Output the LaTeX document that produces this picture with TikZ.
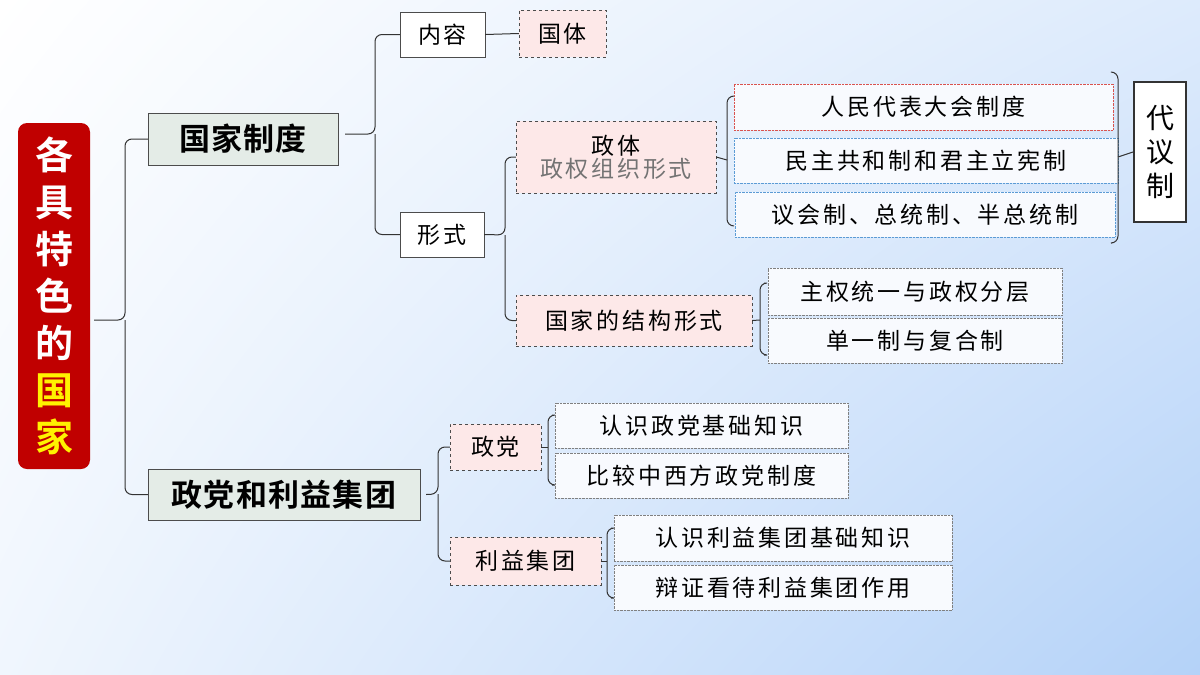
\documentclass[tikz,border=0pt]{standalone}
\usepackage{fontspec}
\setmainfont{Noto Sans CJK SC}
\newfontfamily\cjk[LetterSpace=12]{Noto Sans CJK SC}
\newfontfamily\cjkb[LetterSpace=4]{Noto Sans CJK SC Bold}
\usetikzlibrary{positioning,shadings}
\definecolor{titred}{HTML}{C00000}
\definecolor{mainfill}{HTML}{E4ECE7}
\definecolor{pinkfill}{HTML}{FDE8E8}
\definecolor{bgblue}{HTML}{B4D2F8}
\definecolor{dotblue}{HTML}{5B9BD5}
\definecolor{dotred}{HTML}{D9534F}
\newcommand\bx[7]{\node[#6,minimum width=#4-#2,minimum height=#5-#3] (#1) at ({(#2+#4)/2},{(#3+#5)/2}) {#7};}
\tikzset{
  main/.style={draw=black!70,fill=mainfill,inner sep=0,font=\cjkb\fontsize{31}{33}\selectfont},
  plain/.style={draw=black!70,fill=white,inner sep=0,font=\cjk\fontsize{23}{25}\selectfont},
  pink/.style={draw=black!70,dashed,fill=pinkfill,inner sep=0,font=\cjk\fontsize{23}{25}\selectfont},
  leaf/.style={draw=black!50,densely dotted,fill=white!60!bgblue!25,inner sep=0,font=\cjk\fontsize{23}{25}\selectfont},
  brace/.style={draw=black!80,line width=1pt,rounded corners=7}
}
\begin{document}
\begin{tikzpicture}[x=1pt,y=-1pt]
\shade[upper left=white,upper right=bgblue!45,lower left=bgblue!20,lower right=bgblue] (0,0) rectangle (1200,675);
\useasboundingbox (0,0) rectangle (1200,675);
% title
\node[fill=titred,rounded corners=9,minimum width=72,minimum height=346,inner sep=0,
  align=center,font=\fontspec{Noto Sans CJK SC Bold}\fontsize{38}{47}\selectfont] (tit) at (54,296)
  {\color{white}各\\ \color{white}具\\ \color{white}特\\ \color{white}色\\ \color{white}的\\ \color{yellow}国\\ \color{yellow}家};
\bx{gjzd}{148}{113}{338}{165}{main}{国家制度}
\bx{zdly}{148}{469}{420}{520}{main}{政党和利益集团}
\bx{nr}{400}{12}{485}{57}{plain}{内容}
\bx{gt}{519}{10}{606}{57}{pink}{国体}
\bx{xs}{400}{212}{484}{257}{plain}{形式}
\bx{zt}{516}{121}{716}{193}{pink,align=center}{政体\\[-2pt]\color{black!55}政权组织形式}
\bx{jg}{516}{295}{752}{346}{pink}{国家的结构形式}
\bx{rd}{734}{84}{1113}{130}{leaf,draw=dotred}{人民代表大会制度}
\bx{mz}{734}{138}{1118}{183}{leaf,draw=dotblue}{民主共和制和君主立宪制}
\bx{yh}{735}{192}{1115}{237}{leaf,draw=dotblue}{议会制、总统制、半总统制}
\bx{dy}{1134}{82}{1186}{222}{plain,line width=2.2pt,draw=black!80,align=center,font=\fontsize{28}{34}\selectfont}{代\\议\\制}
\bx{zq}{768}{268}{1062}{315}{leaf}{主权统一与政权分层}
\bx{dy2}{768}{318}{1062}{363}{leaf}{单一制与复合制}
\bx{zd}{450}{424}{541}{470}{pink}{政党}
\bx{ly}{450}{537}{601}{585}{pink}{利益集团}
\bx{rs1}{555}{403}{848}{448}{leaf}{认识政党基础知识}
\bx{bj}{555}{453}{848}{498}{leaf}{比较中西方政党制度}
\bx{rs2}{614}{515}{952}{561}{leaf}{认识利益集团基础知识}
\bx{bz}{614}{565}{952}{610}{leaf}{辩证看待利益集团作用}
% braces
\draw[brace] (tit.east) ++(4,24) -- (125,320) |- (gjzd.west);
\draw[brace] (125,320) |- (zdly.west);
\draw[brace] (345,134) -- (375,134) |- (nr.west);
\draw[brace] (375,134) |- (xs.west);
\draw[black!80,line width=1pt] (nr.east) -- (gt.west);
\draw[brace] (xs.east) -- (505,235) |- (zt.west);
\draw[brace] (505,235) |- (jg.west);
\draw[brace] (zt.east) -- (727,160);
\draw[brace] (734,96) -- (727,96) -- (727,226) -- (734,226);
\draw[brace] (1112,72) -- (1118,72) -- (1118,243) -- (1112,243);
\draw[black!80,line width=1pt] (1118,157) -- (dy.west);
\draw[brace] (jg.east) -- (760,320);
\draw[brace] (764,283) -- (760,283) -- (760,355) -- (764,355);
\draw[brace] (zdly.east) ++(6,0) -- (438,494) |- (zd.west);
\draw[brace] (438,494) |- (ly.west);
\draw[brace] (zd.east) -- (548,447);
\draw[brace] (552,415) -- (548,415) -- (548,485) -- (552,485);
\draw[brace] (ly.east) -- (607,561);
\draw[brace] (611,528) -- (607,528) -- (607,598) -- (611,598);
\end{tikzpicture}
\end{document}
